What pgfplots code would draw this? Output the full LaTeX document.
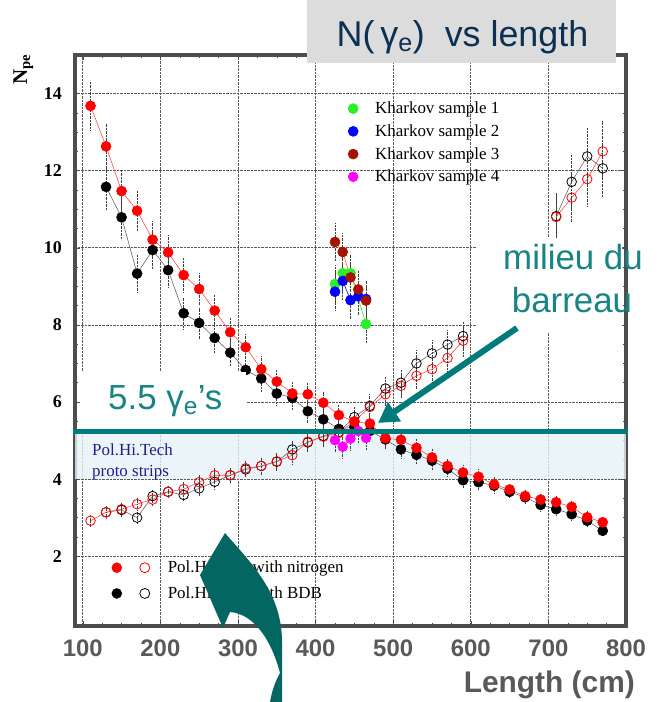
\documentclass[border=0pt]{standalone}
\usepackage{pgfplots}
\pgfplotsset{compat=1.18}
\usepackage{pgfplotstable}
\usepackage{fontspec}
\setmainfont{Liberation Serif}
\newfontfamily\arial{Liberation Sans}
\usetikzlibrary{arrows.meta}

\definecolor{tealline}{RGB}{0,122,122}
\definecolor{tealtext}{RGB}{24,132,132}
\definecolor{tealdark}{RGB}{4,102,96}
\definecolor{navy}{RGB}{12,48,82}
\definecolor{framegray}{RGB}{77,77,77}
\definecolor{ticklab}{RGB}{89,89,89}
\definecolor{titlegray}{RGB}{220,220,220}
\definecolor{kgreen}{RGB}{40,240,40}
\definecolor{kblue}{RGB}{0,0,255}
\definecolor{kred}{RGB}{165,20,0}
\definecolor{kmag}{RGB}{255,0,255}
\definecolor{bandblue}{RGB}{230,243,248}
\definecolor{stripblue}{RGB}{30,30,140}

% Pol.Hi.Tech, nitrogen, read from the near end
\pgfplotstableread{
x y e
110 13.68 0.62
130 12.63 0.60
150 11.47 0.55
170 10.96 0.52
190 10.21 0.48
210 9.88 0.46
230 9.29 0.44
250 8.93 0.42
270 8.37 0.40
290 7.81 0.38
310 7.42 0.36
330 6.85 0.33
350 6.53 0.32
370 6.22 0.30
390 6.20 0.30
410 5.98 0.29
430 5.66 0.27
450 5.49 0.27
470 5.44 0.26
490 5.06 0.25
510 5.02 0.24
530 4.81 0.23
550 4.56 0.22
570 4.34 0.21
590 4.17 0.20
610 4.06 0.20
630 3.86 0.19
650 3.73 0.18
670 3.56 0.17
690 3.47 0.17
710 3.40 0.16
730 3.28 0.16
750 3.01 0.15
770 2.88 0.14
}\rednear

% Pol.Hi.Tech, BDB, read from the near end
\pgfplotstableread{
x y e
130 11.58 0.60
150 10.79 0.55
170 9.33 0.50
190 9.94 0.50
210 9.42 0.46
230 8.30 0.42
250 8.05 0.40
270 7.66 0.38
290 7.28 0.36
310 6.83 0.34
330 6.61 0.33
350 6.22 0.31
370 6.11 0.30
390 5.76 0.29
410 5.55 0.28
430 5.30 0.27
450 5.35 0.27
470 5.25 0.26
490 5.03 0.25
510 4.77 0.24
530 4.63 0.23
550 4.48 0.22
570 4.27 0.21
590 3.97 0.20
610 3.92 0.20
630 3.83 0.19
650 3.67 0.18
670 3.53 0.18
690 3.33 0.17
710 3.22 0.16
730 3.09 0.15
750 2.92 0.15
770 2.66 0.13
}\blacknear

% nitrogen, read from the far end
\pgfplotstableread{
x y e
110 2.92 0.15
130 3.14 0.16
150 3.22 0.16
170 3.35 0.17
190 3.47 0.17
210 3.67 0.18
230 3.74 0.19
250 3.92 0.20
270 4.10 0.21
290 4.10 0.21
310 4.28 0.21
330 4.34 0.22
350 4.46 0.22
370 4.62 0.23
390 4.97 0.25
410 5.10 0.26
430 5.20 0.26
450 5.50 0.28
470 5.87 0.29
490 6.20 0.31
510 6.42 0.32
530 6.68 0.33
550 6.85 0.34
570 7.14 0.36
590 7.59 0.40
}\redfar
\pgfplotstableread{
x y e
710 10.80 0.60
730 11.30 0.65
750 11.78 0.70
770 12.50 0.80
}\redfartop

% BDB, read from the far end
\pgfplotstableread{
x y e
130 3.14 0.16
150 3.20 0.16
170 3.00 0.15
190 3.56 0.18
210 3.67 0.18
230 3.59 0.18
250 3.76 0.19
270 3.93 0.20
290 4.10 0.21
310 4.25 0.21
330 4.34 0.22
350 4.45 0.22
370 4.77 0.24
390 4.95 0.25
410 5.12 0.26
430 5.22 0.26
450 5.61 0.28
470 5.90 0.30
490 6.35 0.32
510 6.50 0.33
530 7.00 0.35
550 7.26 0.36
570 7.49 0.37
590 7.71 0.39
}\blackfar
\pgfplotstableread{
x y e
710 10.82 0.60
730 11.71 0.70
750 12.37 0.75
770 12.06 0.75
}\blackfartop

% Kharkov samples
\pgfplotstableread{
x y e
425 9.06 0.50
435 9.34 0.50
445 9.34 0.50
465 8.02 0.50
}\kone
\pgfplotstableread{
x y e
425 8.86 0.50
435 9.14 0.50
445 8.64 0.50
455 8.74 0.50
465 8.67 0.50
}\ktwo
\pgfplotstableread{
x y e
425 10.15 0.50
435 9.89 0.50
445 9.23 0.50
455 8.92 0.50
465 8.63 0.50
}\kthree
\pgfplotstableread{
x y e
425 5.01 0.30
435 4.84 0.30
445 5.05 0.30
455 5.25 0.30
465 5.07 0.30
}\kfour

\pgfplotsset{
  ebar/.style={error bars/y dir=both, error bars/y explicit,
    error bars/error mark=none,
    error bars/error bar style={black!75, densely dotted, line width=0.9bp}},
  fulldot/.style={mark=*, mark size=5bp, mark options={fill=#1, draw=#1, solid}},
  opendot/.style={mark=o, mark size=4.8bp, mark options={draw=#1, line width=0.8bp, solid}},
}

\begin{document}
\begin{tikzpicture}[x=1bp, y=1bp]
\path[use as bounding box] (0,0) rectangle (658,702);

\begin{axis}[
  at={(75bp,76bp)}, anchor=south west,
  scale only axis, width=551bp, height=571bp,
  xmin=90, xmax=800, ymin=0.19, ymax=15,
  xtick={100,200,...,800}, ytick={2,4,...,14},
  minor x tick num=3, minor y tick num=3,
  tick align=inside, major tick length=5bp, minor tick length=3bp,
  tick style={black!70, line width=0.5bp},
  grid=major, major grid style={black!65, densely dotted, line width=0.7bp},
  axis line style={framegray, line width=3.5bp},
  /pgf/number format/assume math mode=true,
  xticklabel style={font=\arial\bfseries\fontsize{24}{24}\selectfont, text=ticklab,
    anchor=base, inner sep=0pt, yshift=-31bp},
  yticklabel style={font=\bfseries\fontsize{18}{18}\selectfont, anchor=east,
    inner sep=0pt, xshift=-13bp},
  legend style={at={(axis description cs:0.49,0.925)}, anchor=north west,
    draw=none, fill=none, font=\fontsize{17}{17}\selectfont, row sep=5.5bp,
    /tikz/every odd column/.append style={column sep=15bp}},
  legend cell align=left,
  legend image code/.code={\path[#1] plot coordinates {(0.3cm,0cm)};},
]
% Pol.Hi.Tech proto strips band
\fill[bandblue, fill opacity=0.8] (axis cs:90,4) rectangle (axis cs:800,5.23);

\addplot[forget plot, black!60, line width=0.6bp, fulldot=black, ebar]
  table[x=x, y=y, y error=e] {\blacknear};
\addplot[forget plot, black!60, line width=0.6bp, opendot=black, ebar]
  table[x=x, y=y, y error=e] {\blackfar};
\addplot[forget plot, black!60, line width=0.6bp, opendot=black, ebar]
  table[x=x, y=y, y error=e] {\blackfartop};
\addplot[forget plot, red!70, line width=0.6bp, fulldot=red, ebar]
  table[x=x, y=y, y error=e] {\rednear};
\addplot[forget plot, red!70, line width=0.6bp, opendot=red, ebar]
  table[x=x, y=y, y error=e] {\redfar};
\addplot[forget plot, red!70, line width=0.6bp, opendot=red, ebar]
  table[x=x, y=y, y error=e] {\redfartop};

\addplot[kgreen, line width=0.6bp, fulldot=kgreen, ebar]
  table[x=x, y=y, y error=e] {\kone};
\addlegendentry{Kharkov sample 1}
\addplot[kblue, line width=0.6bp, fulldot=kblue, ebar]
  table[x=x, y=y, y error=e] {\ktwo};
\addlegendentry{Kharkov sample 2}
\addplot[orange!80!red, line width=0.6bp, fulldot=kred, ebar]
  table[x=x, y=y, y error=e] {\kthree};
\addlegendentry{Kharkov sample 3}
\addplot[kmag!60, line width=0.4bp, fulldot=kmag, ebar]
  table[x=x, y=y, y error=e] {\kfour};
\addlegendentry{Kharkov sample 4}
\end{axis}

% second legend: both read directions per setup
\begin{axis}[
  at={(75bp,76bp)}, anchor=south west,
  scale only axis, width=551bp, height=571bp,
  xmin=90, xmax=800, ymin=0.19, ymax=15, hide axis,
  legend style={at={(axis description cs:0.061,0.121)}, anchor=north west,
    draw=none, fill=none, font=\fontsize{17}{17}\selectfont, row sep=8.5bp,
    /tikz/every odd column/.append style={column sep=16bp}},
  legend cell align=left,
]
\addlegendimage{legend image code/.code={
  \path plot[mark=*, mark size=5bp, mark options={fill=red, draw=red}] coordinates {(0bp,0bp)};
  \path plot[mark=o, mark size=5bp, mark options={draw=red, line width=0.8bp}] coordinates {(28bp,0bp)};}}
\addlegendentry{Pol.Hi.Tech with nitrogen}
\addlegendimage{legend image code/.code={
  \path plot[mark=*, mark size=5bp, mark options={fill=black, draw=black}] coordinates {(0bp,0bp)};
  \path plot[mark=o, mark size=5bp, mark options={draw=black, line width=0.8bp}] coordinates {(28bp,0bp)};}}
\addlegendentry{Pol.Hi.Tech with BDB}
\end{axis}

% axis labels
\node[rotate=90, anchor=base west, inner sep=0pt, font=\bfseries\fontsize{21}{21}\selectfont]
  at (27,617) {N\textsubscript{pe}};
\node[anchor=base east, inner sep=0pt, font=\arial\bfseries\fontsize{30}{30}\selectfont, text=ticklab]
  at (635,9) {Length (cm)};

% strips label
\node[anchor=base west, inner sep=0pt, text=stripblue, font=\fontsize{17}{17}\selectfont]
  at (92,246) {Pol.Hi.Tech};
\node[anchor=base west, inner sep=0pt, text=stripblue, font=\fontsize{17}{17}\selectfont]
  at (92,225) {proto strips};

% text boxes
\fill[white] (80,272) rectangle (246,330);
\fill[white] (476,369) rectangle (622,464);

% threshold line
\draw[tealline, line width=5bp] (73,270) -- (628,270);

\node[anchor=base west, inner sep=0pt, text=tealtext, font=\arial\fontsize{35}{35}\selectfont]
  at (108,292) {5.5 γ\textsubscript{e}’s};
\node[anchor=base, inner sep=0pt, text=tealtext, font=\arial\fontsize{35}{35}\selectfont]
  at (573,432) {milieu du};
\node[anchor=base, inner sep=0pt, text=tealtext, font=\arial\fontsize{35}{35}\selectfont]
  at (572,389) {barreau};

% arrow to the crossing point
\draw[tealline, line width=6bp, -{Triangle[length=20bp, width=22bp]}] (517,374) -- (378,279);

% curved arrow
\fill[tealdark] (225,169) .. controls (250,140) and (282,110) .. (282,60)
  -- (282,0) -- (270,0) .. controls (272,12) and (276,22) .. (280,29)
  .. controls (272,60) and (255,88) .. (230,90) -- (223,74) -- (200,127) -- cycle;

% title box
\fill[titlegray] (307,639) rectangle (616,702);
\node[anchor=base, inner sep=0pt, text=navy, font=\arial\fontsize{36}{36}\selectfont]
  at (462.5,655) {N(\,γ\textsubscript{e})\ \ vs length};
\end{tikzpicture}
\end{document}
